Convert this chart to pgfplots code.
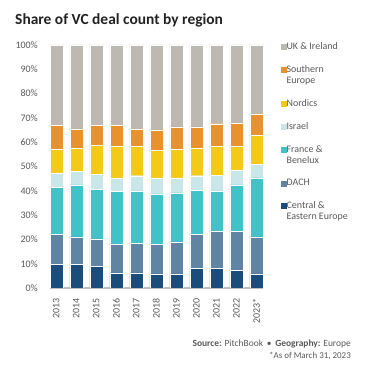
\documentclass[border=0pt]{standalone}
\usepackage{pgfplots}
\pgfplotsset{compat=1.18}
\usepackage{pgfplotstable}
\usepackage{fontspec}
\setmainfont{Carlito}
\definecolor{cUK}{HTML}{BDB9B2}
\definecolor{cSouth}{HTML}{E8912F}
\definecolor{cNord}{HTML}{F4C917}
\definecolor{cIsr}{HTML}{C9E7E9}
\definecolor{cFB}{HTML}{41C1C8}
\definecolor{cDACH}{HTML}{5F84A4}
\definecolor{cCEE}{HTML}{1A4C7C}
\definecolor{txt}{HTML}{595959}
\definecolor{ttl}{HTML}{222222}
\pgfplotstableread{
x  CEE  DACH FB   Isr  Nord South UK
0  9.6  12.4 19.3 6.1  9.7  9.7   33.2
1  9.6  11.4 21.4 5.7  9.5  7.9   34.5
2  8.8  11.4 20.3 6.3  12.0 8.0   33.2
3  6.2  11.9 21.6 5.6  13.2 8.3   33.2
4  6.2  12.2 21.6 6.2  12.0 7.3   34.5
5  5.8  12.3 20.6 6.6  11.3 8.5   34.9
6  5.8  13.2 20.1 6.2  11.8 9.2   33.7
7  8.1  13.9 18.2 6.0  11.2 8.9   33.7
8  8.2  15.0 16.8 6.4  12.0 9.2   32.4
9  7.4  15.8 19.2 6.2  9.9  9.5   32.0
10 5.8  15.2 24.3 5.7  11.9 8.8   28.3
}\data
\begin{document}
\begin{tikzpicture}
\useasboundingbox (0,0) rectangle (388bp,367bp);
\node[anchor=base west, inner sep=0pt, font=\fontsize{15.5}{18}\selectfont\bfseries, text=ttl] at (15bp,342.5bp) {Share of VC deal count by region};
\begin{axis}[
  at={(50bp,79bp)}, anchor=south west,
  scale only axis, width=213bp, height=243bp,
  ybar stacked, bar width=13bp,
  xmin=-0.315, xmax=10.335, ymin=0, ymax=100,
  xtick=data,
  xticklabels={2013,2014,2015,2016,2017,2018,2019,2020,2021,2022,2023*},
  ytick={0,10,...,100},
  yticklabel={\pgfmathprintnumber{\tick}\%},
  /pgf/number format/assume math mode=true,
  axis lines*=left,
  x axis line style={draw=black!25, line width=1.2bp, -},
  y axis line style={draw=none},
  tick style={draw=none},
  major tick length=0pt,
  tick label style={font=\fontsize{10}{12}\selectfont, text=txt, inner sep=0pt},
  xticklabel style={rotate=90, anchor=east},
  xticklabel shift=10bp,
  yticklabel shift=12bp,
  reverse legend,
  legend cell align=left,
  legend style={at={(rel axis cs:1,1)}, anchor=north west, xshift=15bp, yshift=4.3bp,
    draw=none, fill=none, row sep=14.5bp,
    font=\fontsize{10}{11}\selectfont, text=txt,
    nodes={align=left, inner sep=0pt, text=txt}},
]
\addplot[draw=white, line width=0.4bp, fill=cCEE, legend image code/.code={\fill[cCEE] (0bp,3bp) rectangle (5bp,8bp);}] table[x=x,y=CEE]{\data};
\addlegendentry{Central \&\\Eastern Europe}
\addplot[draw=white, line width=0.4bp, fill=cDACH, legend image code/.code={\fill[cDACH] (0bp,-2.5bp) rectangle (5bp,2.5bp);}] table[x=x,y=DACH]{\data};
\addlegendentry{DACH}
\addplot[draw=white, line width=0.4bp, fill=cFB, legend image code/.code={\fill[cFB] (0bp,3bp) rectangle (5bp,8bp);}] table[x=x,y=FB]{\data};
\addlegendentry{France \&\\Benelux}
\addplot[draw=white, line width=0.4bp, fill=cIsr, legend image code/.code={\fill[cIsr] (0bp,-2.5bp) rectangle (5bp,2.5bp);}] table[x=x,y=Isr]{\data};
\addlegendentry{Israel}
\addplot[draw=white, line width=0.4bp, fill=cNord, legend image code/.code={\fill[cNord] (0bp,-2.5bp) rectangle (5bp,2.5bp);}] table[x=x,y=Nord]{\data};
\addlegendentry{Nordics}
\addplot[draw=white, line width=0.4bp, fill=cSouth, legend image code/.code={\fill[cSouth] (0bp,3bp) rectangle (5bp,8bp);}] table[x=x,y=South]{\data};
\addlegendentry{Southern\\Europe}
\addplot[draw=white, line width=0.4bp, fill=cUK, legend image code/.code={\fill[cUK] (0bp,-2.5bp) rectangle (5bp,2.5bp);}] table[x=x,y=UK]{\data};
\addlegendentry{UK \& Ireland}
\end{axis}
\node[anchor=base east, inner sep=0pt, font=\fontsize{9.5}{11}\selectfont, text=txt] at (351bp,20.5bp) {\textbf{Source:} PitchBook \,\textbullet\, \textbf{Geography:} Europe};
\node[anchor=base east, inner sep=0pt, font=\fontsize{9}{11}\selectfont, text=txt] at (351bp,9bp) {*As of March 31, 2023};
\end{tikzpicture}
\end{document}
